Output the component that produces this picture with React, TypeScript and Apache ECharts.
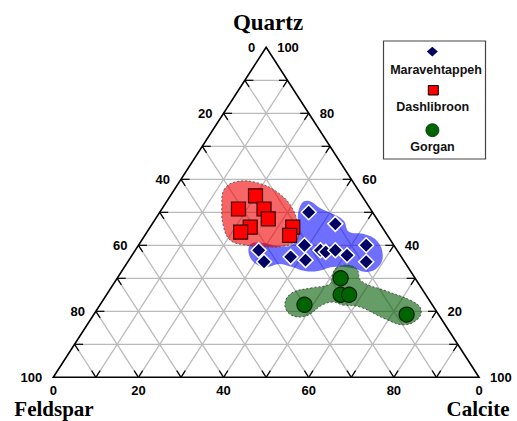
import React, { useEffect, useRef } from "react";
import * as echarts from "echarts";

// Sample compositions as [quartz, feldspar, calcite] (%)
const seriesNames = ["Maravehtappeh", "Dashlibroon", "Gorgan"];

const maravehtappeh = [
  [50, 15, 35],
  [46.5, 10.5, 43],
  [38.5, 32.5, 29],
  [35, 33, 32],
  [40, 21, 39],
  [36.5, 26, 37.5],
  [35.5, 23, 41.5],
  [38.5, 18, 43.5],
  [38, 17, 45],
  [38.5, 14.5, 47],
  [37, 12.5, 50.5],
  [40, 6.5, 53.5],
  [35, 9, 56],
];

const dashlibroon = [
  [55, 25, 20],
  [51, 31, 18],
  [51, 25, 24],
  [48, 25.5, 26.5],
  [45.5, 31, 23.5],
  [44, 34, 22],
  [45.5, 21, 33.5],
  [43, 23, 34],
];

const gorgan = [
  [30, 17.5, 52.5],
  [25, 20, 55],
  [25, 18, 57],
  [22, 30, 48],
  [19, 7.5, 73.5],
];

// Field outlines as [quartz, feldspar, calcite]
const maravehtappehRegion = [
  [52.8, 15.2, 32.0], [53.4, 13.2, 33.4], [51.3, 11.7, 37.0], [47.7, 8.1, 44.2],
  [44.1, 8.5, 47.4], [43.4, 5.3, 51.3], [41.3, 3.3, 55.4], [37.0, 4.1, 58.9],
  [33.4, 7.0, 59.6], [31.9, 10.4, 57.7], [33.1, 13.3, 53.6], [33.4, 17.6, 49.0],
  [32.2, 21.7, 46.1], [32.2, 24.8, 43.0], [33.4, 27.2, 39.4], [34.3, 29.8, 35.9],
  [33.4, 33.1, 33.5], [34.3, 35.2, 30.5], [37.3, 35.4, 27.3], [40.4, 33.4, 26.2],
  [40.7, 30.4, 28.9], [39.8, 27.5, 32.7], [40.1, 23.9, 36.0], [43.7, 20.5, 35.8],
  [48.9, 18.1, 33.0],
];

const dashlibroonRegion = [
  [56.8, 31.5, 11.7], [59.2, 27.7, 13.1], [58.9, 22.5, 18.6], [55.5, 19.0, 25.5],
  [50.7, 18.3, 31.0], [45.2, 19.9, 34.9], [41.6, 21.9, 36.5], [39.8, 25.7, 34.5],
  [39.5, 30.5, 30.0], [40.1, 34.9, 25.0], [41.6, 37.7, 20.7], [46.2, 37.0, 16.8],
  [52.2, 34.3, 13.5],
];

const gorganRegion = [
  [33.1, 17.0, 49.9], [34.0, 14.0, 52.0], [32.8, 12.3, 54.9], [29.2, 13.1, 57.7],
  [26.2, 8.8, 65.0], [23.1, 4.2, 72.7], [20.7, 3.3, 76.0], [17.7, 5.5, 76.8],
  [15.9, 9.7, 74.4], [17.7, 13.2, 69.1], [21.3, 17.3, 61.4], [21.9, 21.0, 57.1],
  [22.8, 22.9, 54.3], [21.9, 25.9, 52.2], [18.6, 31.3, 50.1], [18.9, 34.7, 46.4],
  [22.2, 34.5, 43.3], [25.6, 31.1, 43.3], [27.1, 25.7, 47.2], [28.3, 20.9, 50.8],
  [31.3, 18.7, 50.0],
];

const gridSteps = [10, 20, 30, 40, 50, 60, 70, 80, 90];
const corners = [
  [100, 0, 0],
  [0, 100, 0],
  [0, 0, 100],
];

// tick label positions / texts
const tickValues = [0, 20, 40, 60, 80, 100];
const leftLabels = ["0", "20", "40", "60", "80", "100"]; // feldspar, apex -> bottom-left
const rightLabels = ["100", "80", "60", "40", "20", "100"]; // quartz, apex -> bottom-right
const bottomLabels = ["0", "20", "40", "60", "80", "0"]; // calcite, left -> right

const toXY = (p: number[]) => [p[2] + p[0] / 2, p[0]];
const lerp = (a: number[], b: number[], t: number) => a.map((v, i) => v + (b[i] - v) * t);

const regions = [
  { pts: maravehtappehRegion, fill: "rgba(0,0,255,0.57)", stroke: null as string | null },
  { pts: dashlibroonRegion, fill: "rgba(240,0,0,0.6)", stroke: "#555" },
  { pts: gorganRegion, fill: "rgba(0,90,0,0.6)", stroke: "#444" },
];

export default function App() {
  const ref = useRef<HTMLDivElement>(null);
  useEffect(() => {
    if (!ref.current) return;
    const chart = echarts.init(ref.current, null, { renderer: "svg" });
    const numFont = { fontFamily: "Liberation Sans", fontWeight: "bold" as const, fontSize: 13, fill: "#000" };
    const titleFont = { fontFamily: "Liberation Serif", fontWeight: "bold" as const, fontSize: 21, fill: "#000" };
    const TIP = 2;

    const option: any = {
      animation: false,
      backgroundColor: "#fff",
      grid: { left: 53.3, right: 38, top: 47.3, bottom: 43.7 },
      xAxis: { type: "value", min: 0, max: 100, show: false },
      yAxis: { type: "value", min: 0, max: 100, show: false },
      series: [
        {
          type: "custom",
          name: "grid",
          silent: true,
          clip: false,
          z: 1,
          data: gridSteps.map((k) => [k, 0]),
          renderItem: (_p: any, api: any) => {
            const k = api.value(0);
            const segs = [
              [[k, 100 - k, 0], [k, 0, 100 - k]],
              [[100 - k, k, 0], [0, k, 100 - k]],
              [[100 - k, 0, k], [0, 100 - k, k]],
            ];
            const t = TIP / (100 - k);
            const children: any[] = [];
            const line = (a: number[], b: number[], stroke: string, w: number) => {
              const pa = api.coord(toXY(a));
              const pb = api.coord(toXY(b));
              return {
                type: "line",
                shape: { x1: pa[0], y1: pa[1], x2: pb[0], y2: pb[1] },
                style: { stroke, lineWidth: w },
              };
            };
            segs.forEach(([a, b]) => {
              children.push(line(a, b, "#bababa", 1.25));
            });
            segs.forEach(([a, b]) => {
              children.push(line(a, lerp(a, b, t), "#000", 1.2));
              children.push(line(b, lerp(b, a, t), "#000", 1.2));
            });
            return { type: "group", children };
          },
        },
        {
          type: "custom",
          name: "fields",
          silent: true,
          clip: false,
          z: 2,
          data: regions.map((_, i) => [i, 0]),
          renderItem: (_p: any, api: any) => {
            const r = regions[api.value(0)];
            const points = r.pts.map((p) => api.coord(toXY(p)));
            return {
              type: "polygon",
              shape: { points, smooth: 0.4 },
              style: r.stroke
                ? { fill: r.fill, stroke: r.stroke, lineWidth: 0.9, lineDash: [2, 2] }
                : { fill: r.fill },
            };
          },
        },
        {
          type: "custom",
          name: "frame",
          silent: true,
          clip: false,
          z: 3,
          data: [[0, 0]],
          renderItem: (_p: any, api: any) => ({
            type: "polygon",
            shape: { points: corners.map((c) => api.coord(toXY(c))) },
            style: { fill: "none", stroke: "#000", lineWidth: 1.6 },
          }),
        },
        {
          type: "custom",
          name: "ticklabels",
          silent: true,
          clip: false,
          z: 3,
          data: tickValues.flatMap((_, i) => [[0, i], [1, i], [2, i]]),
          renderItem: (_p: any, api: any) => {
            const side = api.value(0);
            const i = api.value(1);
            const v = tickValues[i];
            if (side === 0) {
              const p = api.coord(toXY([100 - v, v, 0]));
              return { type: "text", x: p[0] - 11, y: p[1] + 0.5, style: { ...numFont, text: leftLabels[i], align: "right", verticalAlign: "middle" } };
            }
            if (side === 1) {
              const p = api.coord(toXY([100 - v, 0, v]));
              return { type: "text", x: p[0] + 11, y: p[1] + 0.5, style: { ...numFont, text: rightLabels[i], align: "left", verticalAlign: "middle" } };
            }
            const p = api.coord(toXY([0, 100 - v, v]));
            return { type: "text", x: p[0], y: p[1] + 13.5, style: { ...numFont, text: bottomLabels[i], align: "center", verticalAlign: "middle" } };
          },
        },
        {
          type: "scatter",
          name: seriesNames[0],
          z: 4,
          symbol: "diamond",
          symbolSize: 15,
          itemStyle: { color: "#000064", borderColor: "#fff", borderWidth: 1.5, opacity: 1 },
          data: maravehtappeh.map(toXY),
        },
        {
          type: "scatter",
          name: seriesNames[1],
          z: 5,
          symbol: "rect",
          symbolSize: 14,
          itemStyle: { color: "#ff0000", borderColor: "#3a0000", borderWidth: 1.2, opacity: 1 },
          data: dashlibroon.map(toXY),
        },
        {
          type: "scatter",
          name: seriesNames[2],
          z: 5,
          symbol: "circle",
          symbolSize: 15,
          itemStyle: { color: "#006400", borderColor: "#002000", borderWidth: 1.2, opacity: 1 },
          data: gorgan.map(toXY),
        },
      ],
      graphic: [
        { type: "text", x: 268, y: 22.5, style: { ...titleFont, fontSize: 23, text: "Quartz", align: "center", verticalAlign: "middle" } },
        { type: "text", x: 54, y: 409, style: { ...titleFont, text: "Feldspar", align: "center", verticalAlign: "middle" } },
        { type: "text", x: 478, y: 409, style: { ...titleFont, text: "Calcite", align: "center", verticalAlign: "middle" } },
        { type: "rect", shape: { x: 383.5, y: 41, width: 102, height: 118 }, style: { fill: "#fff", stroke: "#444", lineWidth: 1.2 } },
        { type: "polygon", shape: { points: [[432.3, 46.8], [437.8, 51.6], [432.3, 56.4], [426.8, 51.6]] }, style: { fill: "#000064" } },
        { type: "rect", shape: { x: 428.3, y: 85.5, width: 10, height: 9.5 }, style: { fill: "#ff0000", stroke: "#000", lineWidth: 1 } },
        { type: "circle", shape: { cx: 432.4, cy: 130.2, r: 6.5 }, style: { fill: "#006400", stroke: "#003000", lineWidth: 0.8 } },
        { type: "text", x: 436, y: 70, style: { text: seriesNames[0], fontFamily: "Liberation Sans", fontWeight: "bold", fontSize: 12.5, fill: "#111", align: "center", verticalAlign: "middle" } },
        { type: "text", x: 432.7, y: 106.7, style: { text: seriesNames[1], fontFamily: "Liberation Sans", fontWeight: "bold", fontSize: 12.5, fill: "#111", align: "center", verticalAlign: "middle" } },
        { type: "text", x: 432.5, y: 147.3, style: { text: seriesNames[2], fontFamily: "Liberation Sans", fontWeight: "bold", fontSize: 12.5, fill: "#111", align: "center", verticalAlign: "middle" } },
      ],
    };
    chart.setOption(option);
    return () => chart.dispose();
  }, []);
  return (
    <div
      ref={ref}
      style={{ position: "fixed", left: 0, top: 0, width: 517, height: 421, background: "#fff" }}
    />
  );
}
